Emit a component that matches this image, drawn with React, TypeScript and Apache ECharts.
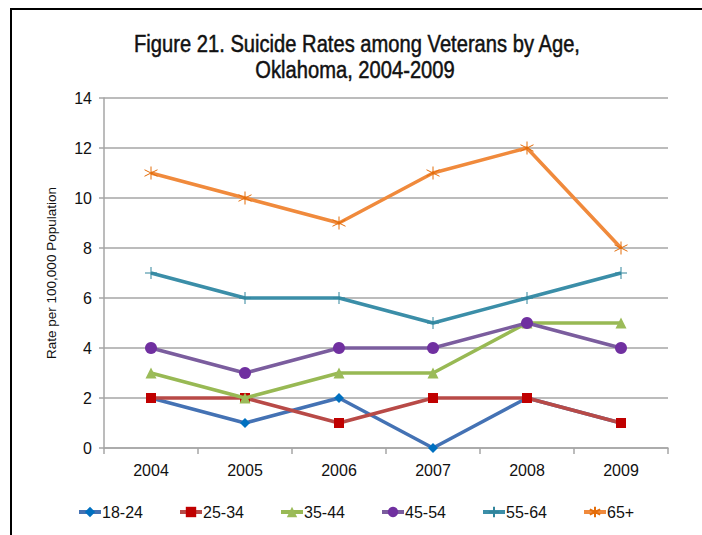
import React, { useEffect, useRef } from "react";
import * as echarts from "echarts";

const years = ["2004", "2005", "2006", "2007", "2008", "2009"];
const seriesNames = ["18-24", "25-34", "35-44", "45-54", "55-64", "65+"];
const age18to24 = [2, 1, 2, 0, 2, 1];
const age25to34 = [2, 2, 1, 2, 2, 1];
const age35to44 = [3, 2, 3, 3, 5, 5];
const age45to54 = [4, 3, 4, 4, 5, 4];
const age55to64 = [7, 6, 6, 5, 6, 7];
const age65plus = [11, 10, 9, 11, 12, 8];
const yTicks = { min: 0, max: 14, interval: 2 };
const titleLines = ["Figure 21. Suicide Rates among Veterans by Age,", "Oklahoma, 2004-2009"];

const FONT = "'Liberation Sans Narrow', 'Arial Narrow', 'Liberation Sans', sans-serif";

const PLUS = "path://M0,5 L10,5 M5,0 L5,10";
const STAR = "path://M5,0 L5,10 M0.7,2.5 L9.3,7.5 M0.7,7.5 L9.3,2.5";

export default function App() {
  const ref = useRef<HTMLDivElement>(null);
  useEffect(() => {
    if (!ref.current) return;
    const chart = echarts.init(ref.current, null, { renderer: "svg" });
    const values = [age18to24, age25to34, age35to44, age45to54, age55to64, age65plus];
    const lineColors = ["#4472b4", "#b84a47", "#98b954", "#7b5d9e", "#3b8ea8", "#f08a3c"];
    const markerFill = ["#0070c0", "#c00000", "#9bbb59", "#7030a0", "#31859c", "#e36c09"];
    const symbols = ["diamond", "rect", "triangle", "circle", PLUS, STAR];
    const sizes = [10, 10, 11, 12, 12, 13];
    const series = seriesNames.map((name, i) => {
      const isStroke = i >= 4;
      return {
        name,
        type: "line",
        data: values[i],
        symbol: symbols[i],
        symbolSize: sizes[i],
        showAllSymbol: true,
        lineStyle: { color: lineColors[i], width: 3.5 },
        itemStyle: isStroke
          ? { color: "none", borderColor: markerFill[i], borderWidth: 1 }
          : { color: markerFill[i], borderColor: markerFill[i], borderWidth: 0 },
        emphasis: { disabled: true },
        z: 2 + i,
      };
    });
    const legendLeft = [72, 173, 274, 375, 476, 577];
    chart.setOption({
      animation: false,
      backgroundColor: "#ffffff",
      textStyle: { fontFamily: FONT },
      legend: seriesNames.map((name, i) => ({
        data: [name],
        left: legendLeft[i],
        top: 499,
        itemWidth: 22,
        itemHeight: 13,
        itemGap: 0,
        lineStyle: { width: 4 },
        textStyle: { fontFamily: FONT, fontSize: 16, color: "#111", padding: [0, 0, 0, -4] },
        selectedMode: false,
      })),
      grid: { left: 104, right: 34, top: 98, bottom: 87 },
      xAxis: {
        type: "category",
        data: years,
        boundaryGap: true,
        axisLine: { lineStyle: { color: "#a6a6a6", width: 1.5 } },
        axisTick: { show: true, length: 6, alignWithLabel: false, lineStyle: { color: "#a6a6a6", width: 1.5 } },
        axisLabel: { fontFamily: FONT, fontSize: 16, color: "#111", margin: 14 },
      },
      yAxis: {
        type: "value",
        min: yTicks.min,
        max: yTicks.max,
        interval: yTicks.interval,
        name: "Rate per 100,000 Population",
        nameLocation: "middle",
        nameGap: 46,
        nameTextStyle: { fontFamily: FONT, fontSize: 13.5, color: "#111" },
        axisLine: { show: true, lineStyle: { color: "#a6a6a6", width: 1.5 } },
        axisTick: { show: true, length: 5, lineStyle: { color: "#a6a6a6", width: 1.5 } },
        axisLabel: { fontFamily: FONT, fontSize: 16, color: "#111", margin: 12 },
        splitLine: { lineStyle: { color: "#a6a6a6", width: 1.5 } },
      },
      graphic: [
        { type: "line", shape: { x1: 10, y1: 9, x2: 702, y2: 9 }, style: { stroke: "#000", lineWidth: 2 } },
        { type: "line", shape: { x1: 11, y1: 8, x2: 11, y2: 535 }, style: { stroke: "#000", lineWidth: 2 } },
        {
          type: "text",
          x: 357,
          y: 43.5,
          scaleX: 0.84,
          style: {
            text: titleLines[0],
            fontFamily: FONT,
            fontSize: 24,
            fill: "#111",
            stroke: "#111",
            lineWidth: 0.5,
            textAlign: "center",
            textVerticalAlign: "middle",
          },
        },
        {
          type: "text",
          x: 355,
          y: 69.5,
          scaleX: 0.84,
          style: {
            text: titleLines[1],
            fontFamily: FONT,
            fontSize: 24,
            fill: "#111",
            stroke: "#111",
            lineWidth: 0.5,
            textAlign: "center",
            textVerticalAlign: "middle",
          },
        },
      ],
      series,
    });
    return () => chart.dispose();
  }, []);
  return (
    <div
      ref={ref}
      style={{ position: "fixed", left: 0, top: 0, width: 702, height: 535 }}
    />
  );
}
